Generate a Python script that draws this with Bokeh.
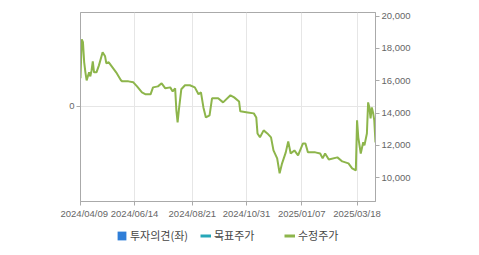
from bokeh.plotting import figure
from bokeh.models import (Range1d, LinearAxis, FixedTicker, NumeralTickFormatter,
                          Legend, LegendItem, Spacer, ColumnDataSource)
from bokeh.layouts import row, column
from bokeh.embed import file_html
from bokeh.resources import INLINE

# trading-day index and adjusted price (수정주가)
day_idx = [0, 1, 2, 3, 4, 5, 7, 8, 9, 10, 11, 13, 15, 18, 20, 21, 23, 26, 29, 33, 34, 39,
           43, 46, 50, 53, 57, 59, 63, 66, 69, 73, 75, 77, 78, 79, 80, 82, 85, 89, 93, 96,
           98, 100, 102, 105, 107, 112, 116, 122, 125, 129, 130, 136, 141, 143, 144, 146,
           149, 152, 155, 157, 160, 162, 164, 167, 169, 171, 174, 177, 181, 183, 185, 191,
           195, 197, 199, 202, 209, 213, 218, 221, 224, 225, 226, 228, 230, 231, 233, 234,
           235, 236, 237, 238, 239, 240]
adj_price = [16150, 18560, 18380, 17140, 16520, 16020, 16520, 16270, 16640, 17200, 16520,
             16520, 16950, 17760, 17510, 17080, 17140, 16830, 16520, 16020, 15960, 15960,
             15900, 15650, 15280, 15160, 15160, 15590, 15650, 15840, 15530, 15590, 15340,
             15530, 14170, 13420, 14170, 15470, 15720, 15720, 15590, 15160, 15280, 14350,
             13730, 13860, 14910, 14910, 14660, 15100, 14970, 14720, 14110, 14040, 13980,
             13730, 12740, 12500, 12930, 12740, 12500, 11690, 11200, 10270, 10890, 11570,
             12250, 11500, 11690, 11380, 12120, 12120, 11570, 11570, 11500, 11200, 11500,
             11130, 11260, 11010, 10890, 10580, 10450, 13550, 12500, 11500, 12190, 12000,
             12740, 14660, 14350, 13670, 14350, 14040, 13550, 12190]

tick_idx = [0, 44, 91, 135, 180, 225]
tick_labels = ["2024/04/09", "2024/06/14", "2024/08/21", "2024/10/31", "2025/01/07", "2025/03/18"]
price_ticks = [10000, 12000, 14000, 16000, 18000, 20000]
opinion_ticks = [0]
legend_labels = ["투자의견(좌)", "목표주가", "수정주가"]

AX = "#aaaaaa"
TXT = "#666666"
FONT = "Liberation Sans"
GREEN = "#8db54b"
BLUE = "#2f7ed8"
TEAL = "#26a7b8"

p = figure(width=419, height=222, output_backend="svg", toolbar_location=None,
           x_range=Range1d(0, 240), y_range=Range1d(-1.0, 0.986),
           min_border_left=20, min_border_right=104, min_border_top=12,
           min_border_bottom=21)
p.extra_y_ranges = {"price": Range1d(8530, 20220)}
p.outline_line_color = AX
p.background_fill_color = "white"
p.border_fill_color = "white"

xa = p.xaxis[0]
xa.ticker = FixedTicker(ticks=tick_idx)
xa.major_label_overrides = {t: l for t, l in zip(tick_idx, tick_labels)}
ya = p.yaxis[0]
ya.ticker = FixedTicker(ticks=opinion_ticks)
ra = LinearAxis(y_range_name="price", ticker=FixedTicker(ticks=price_ticks),
                formatter=NumeralTickFormatter(format="0,0"))
p.add_layout(ra, "right")

for ax in [xa, ya, ra]:
    ax.axis_line_color = AX
    ax.major_tick_line_color = AX
    ax.major_tick_out = 4
    ax.major_tick_in = 0
    ax.minor_tick_line_color = None
    ax.major_label_text_color = TXT
    ax.major_label_text_font = FONT
    ax.major_label_text_font_size = "9.5px"
    ax.major_label_standoff = 2

p.xgrid.ticker = FixedTicker(ticks=tick_idx)
p.xgrid.grid_line_color = "#e6e6e6"
p.ygrid.ticker = FixedTicker(ticks=opinion_ticks)
p.ygrid.grid_line_color = "#e6e6e6"

src = ColumnDataSource(dict(x=day_idx, y=adj_price))
p.line("x", "y", source=src, y_range_name="price", line_color=GREEN, line_width=2)

# legend strip (its swatch renderers sit outside the visible range)
lg = figure(width=479, height=33, output_backend="svg", toolbar_location=None,
            x_range=Range1d(0, 1), y_range=Range1d(0, 1),
            min_border_left=0, min_border_right=0, min_border_top=0, min_border_bottom=0)
lg.axis.visible = False
lg.grid.visible = False
lg.outline_line_color = None
op_bar = lg.vbar(x=[9], top=[9], bottom=[8], width=0.1, fill_color=BLUE, line_color=None)
tgt_line = lg.line(x=[9, 10], y=[9, 9], line_color=TEAL, line_width=3)
adj_line = lg.line(x=[9, 10], y=[9, 9], line_color=GREEN, line_width=3)

legend = Legend(items=[LegendItem(label=legend_labels[0], renderers=[op_bar]),
                       LegendItem(label=legend_labels[1], renderers=[tgt_line]),
                       LegendItem(label=legend_labels[2], renderers=[adj_line])],
                orientation="horizontal", location=(116, 10),
                glyph_width=11, glyph_height=11, label_standoff=3, label_width=64,
                spacing=6, padding=0, margin=0, border_line_color=None,
                background_fill_alpha=0, label_text_font="Noto Sans CJK KR",
                label_text_font_size="11px", label_text_color="#444444",
                label_height=20)
lg.add_layout(legend, "center")

layout = column(row(Spacer(width=60, height=222), p), lg)
open("out.html", "w").write(file_html(layout, INLINE))
